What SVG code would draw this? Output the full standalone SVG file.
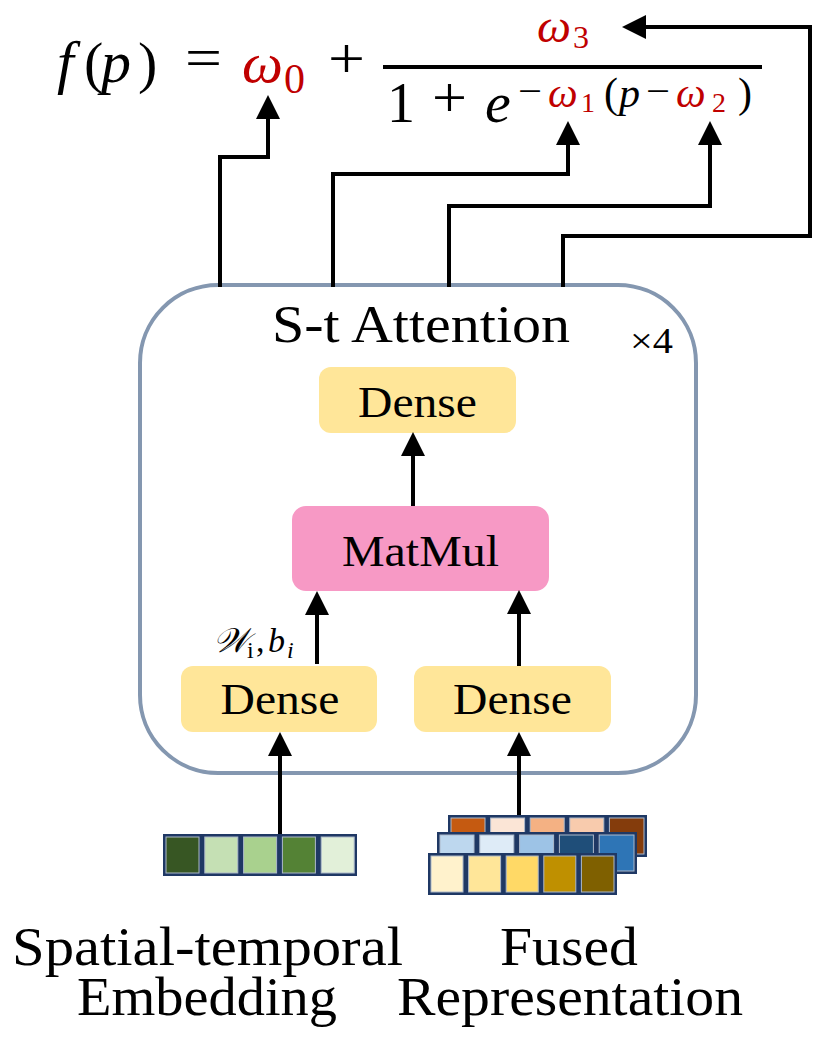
<svg xmlns="http://www.w3.org/2000/svg" width="828" height="1039" viewBox="0 0 828 1039" font-family="'Liberation Serif', serif">
<defs>
<style>
.it{font-style:italic}
.red{fill:#C00000}
.lbl{font-size:44px;fill:#000;text-anchor:middle}
.conn{fill:none;stroke:#000;stroke-width:4;marker-end:url(#ah)}
.dense{fill:#FFE699}
.cellbg{fill:#1F3864}
.cell{stroke:#ADB9CA;stroke-width:1}
</style>
<marker id="ah" viewBox="0 0 24 24" refX="12" refY="12" markerWidth="24" markerHeight="24" markerUnits="userSpaceOnUse" orient="auto">
<path d="M0,0 L24,12 L0,24 Z" fill="#000"/>
</marker>
</defs>
<rect width="828" height="1039" fill="#fff"/>

<g id="formula">
<text x="57" y="82" font-size="60" class="it">f</text>
<text x="84" y="82" font-size="58">(</text>
<text x="101" y="82" font-size="60" class="it">p</text>
<text x="138" y="82" font-size="58">)</text>
<text x="185" y="77" font-size="58" textLength="37" lengthAdjust="spacingAndGlyphs">=</text>
<text x="242" y="82" font-size="58" class="it red">ω</text>
<text x="284" y="93" font-size="42" class="red">0</text>
<text x="328" y="78" font-size="58" textLength="37" lengthAdjust="spacingAndGlyphs">+</text>
<line x1="383" y1="67" x2="762" y2="67" stroke="#000" stroke-width="4"/>
<text x="537" y="42" font-size="47" class="it red" textLength="34" lengthAdjust="spacingAndGlyphs">ω</text>
<text x="573" y="48" font-size="32" class="red">3</text>
<text x="387" y="122" font-size="56">1</text>
<text x="432" y="117" font-size="58" textLength="35" lengthAdjust="spacingAndGlyphs">+</text>
<text x="485" y="122" font-size="58" class="it">e</text>
<text x="518" y="104" font-size="38" textLength="24" lengthAdjust="spacingAndGlyphs">−</text>
<text x="548" y="107" font-size="42" class="it red">ω</text>
<text x="581" y="112" font-size="28" class="red">1</text>
<text x="604" y="107" font-size="42">(</text>
<text x="619" y="107" font-size="42" class="it">p</text>
<text x="646" y="104" font-size="38" textLength="24" lengthAdjust="spacingAndGlyphs">−</text>
<text x="676" y="107" font-size="42" class="it red">ω</text>
<text x="712" y="112" font-size="28" class="red">2</text>
<text x="738" y="107" font-size="42">)</text>
</g>

<g id="st-attention">
<rect x="140" y="285" width="556" height="488" rx="78" ry="78" fill="#fff" stroke="#8497B0" stroke-width="4"/>
<text x="272" y="342" font-size="52" textLength="298" lengthAdjust="spacingAndGlyphs">S-t Attention</text>
<text x="630" y="353" font-size="36" textLength="43" lengthAdjust="spacingAndGlyphs">×4</text>
</g>

<g id="dense-top">
<rect x="319" y="367" width="197" height="66" rx="12" class="dense"/>
<text x="417.5" y="417" class="lbl" textLength="119" lengthAdjust="spacingAndGlyphs">Dense</text>
</g>

<g id="matmul">
<rect x="292" y="506" width="257" height="85" rx="14" fill="#F799C5"/>
<text x="420.5" y="566" class="lbl" textLength="157" lengthAdjust="spacingAndGlyphs">MatMul</text>
</g>

<g id="dense-left">
<rect x="181" y="666" width="196" height="66" rx="12" class="dense"/>
<text x="280" y="714" class="lbl" textLength="119" lengthAdjust="spacingAndGlyphs">Dense</text>
</g>

<g id="dense-right">
<rect x="414" y="666" width="197" height="66" rx="12" class="dense"/>
<text x="512.5" y="714" class="lbl" textLength="119" lengthAdjust="spacingAndGlyphs">Dense</text>
</g>

<g id="weight-label" font-size="34">
<text x="213" y="652" class="it">𝒲</text>
<text x="247" y="658" font-size="24">i</text>
<text x="256" y="652">,</text>
<text x="268" y="652" class="it">b</text>
<text x="287" y="658" font-size="24" class="it">i</text>
</g>

<g id="connectors">
<path class="conn" d="M220,287 V157 H268 V107"/>
<path class="conn" d="M333,287 V174 H568 V133"/>
<path class="conn" d="M449,287 V206 H710 V133"/>
<path class="conn" d="M563,287 V236 H810 V27 H634"/>
<path class="conn" d="M413,506 V444"/>
<path class="conn" d="M317,664 V603"/>
<path class="conn" d="M519,666 V602"/>
<path class="conn" d="M280,834 V744"/>
<path class="conn" d="M519,815 V744"/>
</g>

<g id="spatial-temporal-embedding">
<rect x="163" y="834" width="194" height="42" class="cellbg"/>
<rect x="166" y="837" width="33" height="36" fill="#375623" class="cell"/>
<rect x="204.8" y="837" width="33" height="36" fill="#C5E0B4" class="cell"/>
<rect x="243.6" y="837" width="33" height="36" fill="#A9D18E" class="cell"/>
<rect x="282.4" y="837" width="33" height="36" fill="#548235" class="cell"/>
<rect x="321.2" y="837" width="33" height="36" fill="#E2F0D9" class="cell"/>
<text x="12" y="965" font-size="55" textLength="391" lengthAdjust="spacingAndGlyphs">Spatial-temporal</text>
<text x="77" y="1015" font-size="55" textLength="260" lengthAdjust="spacingAndGlyphs">Embedding</text>
</g>

<g id="fused-representation">
<rect x="448" y="815" width="199" height="42" class="cellbg"/>
<rect x="451" y="818" width="34" height="36" fill="#C55A11" class="cell"/>
<rect x="490.6" y="818" width="34" height="36" fill="#FBE5D6" class="cell"/>
<rect x="530.2" y="818" width="34" height="36" fill="#F4B183" class="cell"/>
<rect x="569.8" y="818" width="34" height="36" fill="#F8CBAD" class="cell"/>
<rect x="609.4" y="818" width="34.6" height="36" fill="#843C0C" class="cell"/>
<rect x="437" y="832" width="200" height="42" class="cellbg"/>
<rect x="440" y="835" width="34" height="36" fill="#BDD7EE" class="cell"/>
<rect x="479.8" y="835" width="34" height="36" fill="#DEEBF7" class="cell"/>
<rect x="519.6" y="835" width="34" height="36" fill="#9DC3E6" class="cell"/>
<rect x="559.4" y="835" width="34" height="36" fill="#1F4E79" class="cell"/>
<rect x="599.2" y="835" width="34.8" height="36" fill="#2E75B6" class="cell"/>
<rect x="428" y="853" width="189" height="42" class="cellbg"/>
<rect x="431" y="856" width="32" height="36" fill="#FFF2CC" class="cell"/>
<rect x="468.6" y="856" width="32" height="36" fill="#FFE699" class="cell"/>
<rect x="506.2" y="856" width="32" height="36" fill="#FFD966" class="cell"/>
<rect x="543.8" y="856" width="32" height="36" fill="#BF9000" class="cell"/>
<rect x="581.4" y="856" width="32.6" height="36" fill="#7F6000" class="cell"/>
<text x="500" y="965" font-size="55" textLength="138" lengthAdjust="spacingAndGlyphs">Fused</text>
<text x="397" y="1015" font-size="55" textLength="346" lengthAdjust="spacingAndGlyphs">Representation</text>
</g>
</svg>
